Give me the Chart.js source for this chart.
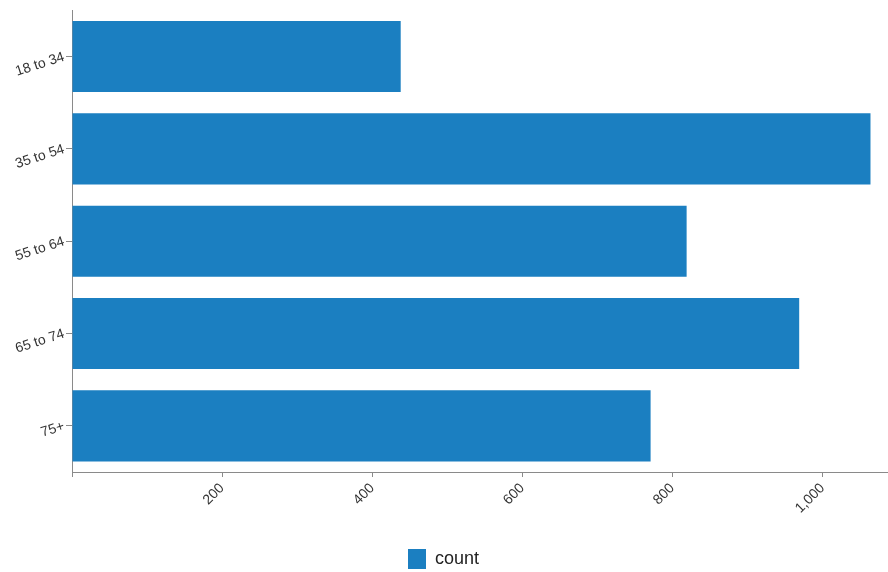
<!DOCTYPE html>
<html>
<head>
    <title>Count by age group</title>
    <script src="https://cdn.jsdelivr.net/npm/chart.js"></script>
    <style>
        html, body { margin: 0; padding: 0; background: #fff; }
        #wrap { width: 888px; height: 572px; position: relative; }
    </style>
</head>
<body>
    <div id="wrap">
        <canvas id="ageChart"></canvas>
    </div>

    <script>
        // data
        const ageGroups = ["18 to 34", "35 to 54", "55 to 64", "65 to 74", "75+"];
        const countValues = [438, 1064, 819, 969, 771];
        const seriesName = "count";
        const axisMax = 1086;

        const barBlue = "rgb(27,127,193)";
        const axisGrey = "#8a8a8a";

        var ctx = document.getElementById("ageChart").getContext("2d");
        var ageChart = new Chart(ctx, {
            type: "bar",
            data: {
                labels: ageGroups,
                datasets: [
                    {
                        label: seriesName,
                        data: countValues,
                        backgroundColor: barBlue,
                        borderWidth: 0,
                        categoryPercentage: 1.0,
                        barPercentage: 0.77
                    }
                ]
            },
            options: {
                indexAxis: "y",
                responsive: true,
                maintainAspectRatio: false,
                animation: false,
                layout: {
                    // negative bottom pushes the legend a bit lower
                    padding: { top: 10, right: 1, left: 0, bottom: -7 }
                },
                scales: {
                    x: {
                        min: 0,
                        max: axisMax,
                        border: { display: true, color: axisGrey, width: 1 },
                        grid: {
                            drawOnChartArea: false,
                            drawTicks: true,
                            tickLength: 5,
                            color: axisGrey
                        },
                        ticks: {
                            stepSize: 200,
                            includeBounds: false,
                            minRotation: 45,
                            maxRotation: 45,
                            color: "#333",
                            font: { family: "Liberation Sans", size: 14 },
                            callback: function (value) {
                                return value === 0 ? "" : value.toLocaleString("en-US");
                            }
                        },
                        afterFit: function (scale) {
                            scale.height = 74;
                        }
                    },
                    y: {
                        border: { display: true, color: axisGrey, width: 1 },
                        grid: {
                            offset: false,
                            drawOnChartArea: false,
                            drawTicks: true,
                            tickLength: 6,
                            color: axisGrey
                        },
                        ticks: {
                            minRotation: 18,
                            maxRotation: 18,
                            padding: 2,
                            color: "#333",
                            font: { family: "Liberation Sans", size: 14 }
                        },
                        afterFit: function (scale) {
                            scale.width = 72;
                        }
                    }
                },
                plugins: {
                    tooltip: { enabled: false },
                    legend: {
                        position: "bottom",
                        labels: {
                            boxWidth: 18,
                            boxHeight: 20,
                            padding: 3,
                            color: "#222",
                            font: { family: "Liberation Sans", size: 18 }
                        }
                    }
                }
            }
        });
    </script>
</body>
</html>
